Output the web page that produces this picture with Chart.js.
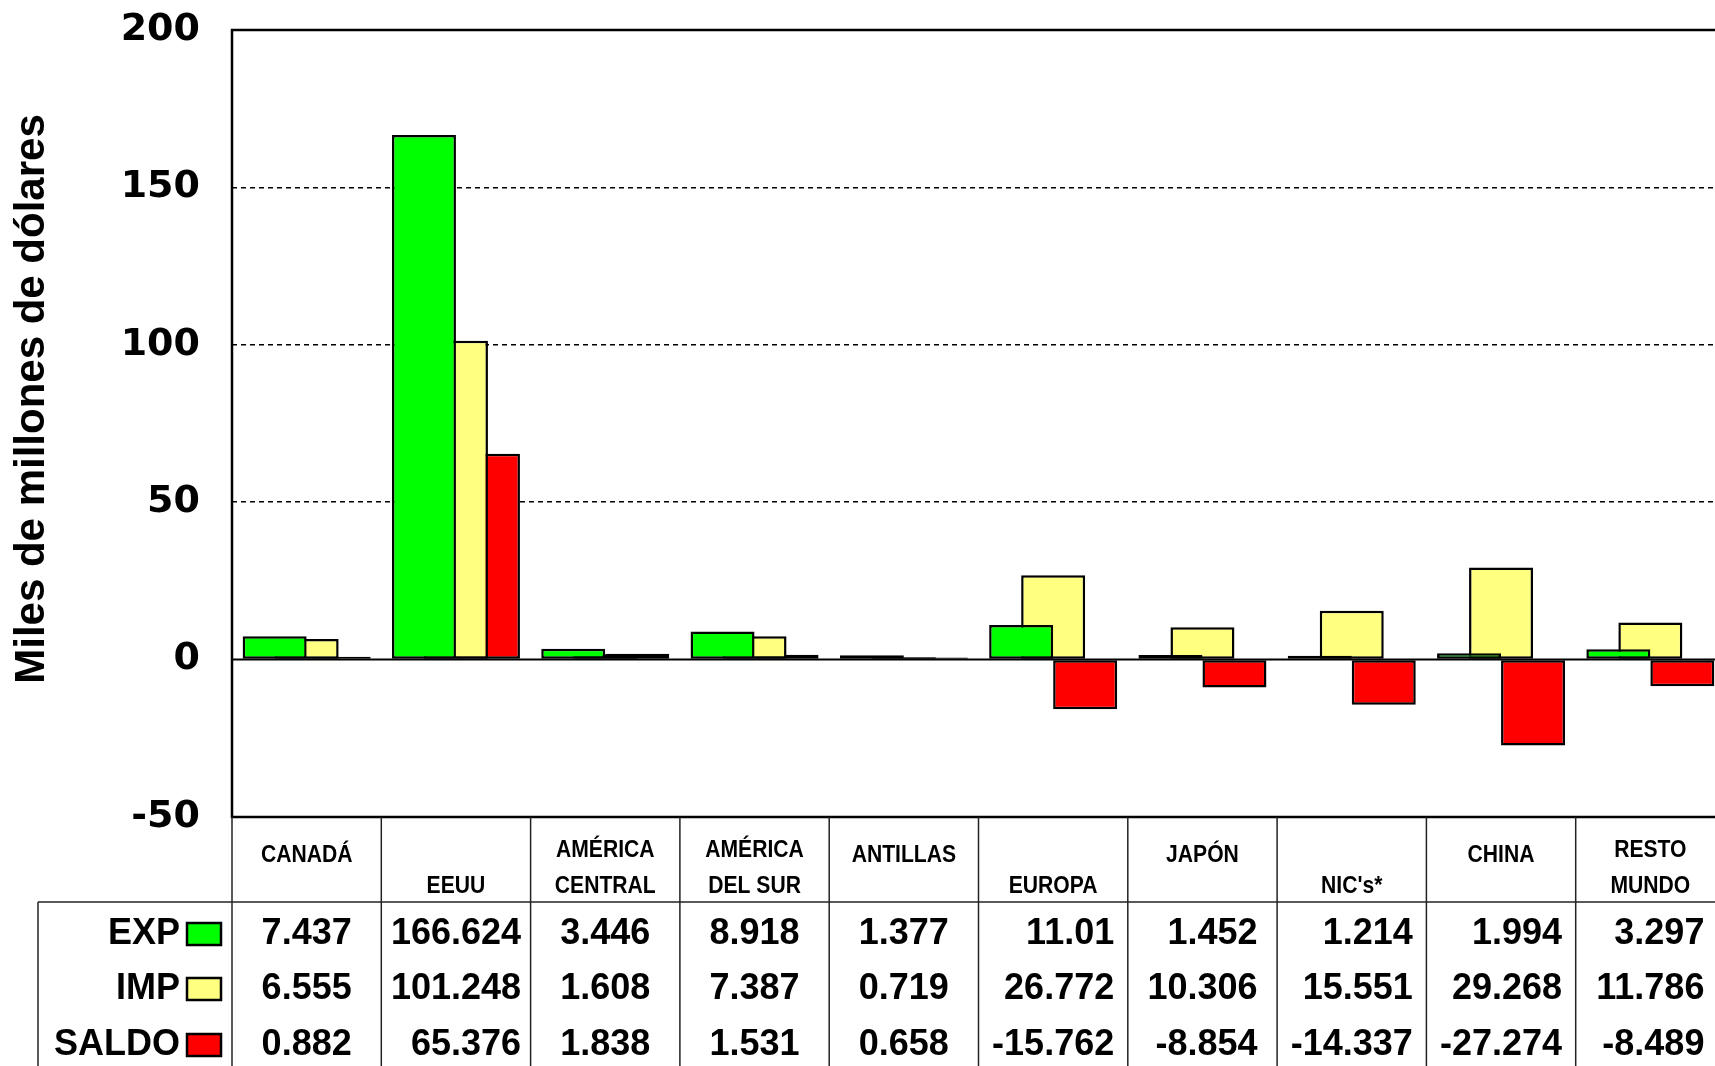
<!DOCTYPE html>
<html>
<head>
<meta charset="utf-8">
<script src="https://cdn.jsdelivr.net/npm/chart.js@4.4.1/dist/chart.umd.min.js"></script>
<style>
html, body { margin: 0; padding: 0; background: #fff; overflow: hidden; }
canvas { display: block; }
</style>
</head>
<body>
<canvas id="chart" width="1730" height="1066"></canvas>
<script>
// Categories as [upper line, lower line] of the table header
const categories = [
	['CANADÁ', ''], ['', 'EEUU'], ['AMÉRICA', 'CENTRAL'], ['AMÉRICA', 'DEL SUR'], ['ANTILLAS', ''],
	['', 'EUROPA'], ['JAPÓN', ''], ['', "NIC's*"], ['CHINA', ''], ['RESTO', 'MUNDO'],
];
const seriesNames  = ['EXP', 'IMP', 'SALDO'];
const expValues    = [7.437, 166.624, 3.446, 8.918, 1.377, 11.01, 1.452, 1.214, 1.994, 3.297];
const impValues    = [6.555, 101.248, 1.608, 7.387, 0.719, 26.772, 10.306, 15.551, 29.268, 11.786];
const saldoValues  = [0.882, 65.376, 1.838, 1.531, 0.658, -15.762, -8.854, -14.337, -27.274, -8.489];
const yMin = -50, yMax = 200, yStep = 50;
const yTitle = 'Miles de millones de dólares';

const seriesColors = ['#00ff00', '#ffff80', '#ff0000'];
const seriesValues = [expValues, impValues, saldoValues];

function line(ctx, x1, y1, x2, y2) {
	ctx.beginPath();
	ctx.moveTo(x1, y1);
	ctx.lineTo(x2, y2);
	ctx.stroke();
}

// Frame, zero line, y title and the data table under the plot
const tablePlugin = {
	id: 'dataTable',
	afterDraw(chart) {
		let ctx  = chart.ctx;
		let area = chart.chartArea;
		let x    = chart.scales.x;
		let y    = chart.scales.y;
		let colW = (x.right - x.left) / categories.length;

		let headTop    = area.bottom;
		let headBottom = headTop + 85;
		let tableEnd   = chart.height + 5;
		let rowLeft    = 38;
		let rowY       = [934, 989, 1045];

		ctx.save();

		// zero line and plot frame
		ctx.strokeStyle = '#000';
		ctx.lineWidth = 2;
		let y0 = y.getPixelForValue(0);
		line(ctx, area.left, y0, area.right, y0);
		ctx.lineWidth = 2.5;
		ctx.strokeRect(area.left, area.top, area.right - area.left, area.bottom - area.top);

		// table grid
		ctx.strokeStyle = '#222';
		ctx.lineWidth = 1.5;
		categories.forEach((c, i) => {
			let left = x.getPixelForValue(i) - colW / 2;
			line(ctx, left, headTop, left, tableEnd);
		});
		line(ctx, x.right, headTop, x.right, tableEnd);
		line(ctx, rowLeft, headBottom, x.right, headBottom);
		line(ctx, rowLeft, headBottom, rowLeft, tableEnd);

		ctx.fillStyle = '#000';
		ctx.textBaseline = 'middle';

		// header labels
		ctx.textAlign = 'center';
		ctx.font = 'bold 24px "Liberation Sans", Arial, sans-serif';
		categories.forEach((c, i) => {
			let cx = x.getPixelForValue(i);
			let lines = [];
			if (c[0]) lines.push([c[0], c[1] ? 850 : 855]);
			if (c[1]) lines.push([c[1], 886]);
			lines.forEach(([txt, ty]) => {
				ctx.save();
				ctx.translate(cx, ty);
				ctx.scale(0.88, 1);
				ctx.fillText(txt, 0, 0);
				ctx.restore();
			});
		});

		// values: right aligned in a block centred on the column
		ctx.font = 'bold 36px "Liberation Sans", Arial, sans-serif';
		ctx.textAlign = 'right';
		categories.forEach((c, i) => {
			let cx = x.getPixelForValue(i);
			let texts = seriesValues.map(vals => String(vals[i]));
			let maxW = Math.max(...texts.map(t => ctx.measureText(t).width));
			texts.forEach((t, r) => ctx.fillText(t, cx + maxW / 2, rowY[r]));
		});

		// row names with colour keys
		seriesNames.forEach((name, r) => {
			ctx.fillStyle = '#000';
			ctx.fillText(name, 180, rowY[r]);
			ctx.fillStyle = seriesColors[r];
			ctx.fillRect(187, rowY[r] - 11, 34, 22);
			ctx.strokeStyle = '#000';
			ctx.lineWidth = 2.5;
			ctx.strokeRect(187, rowY[r] - 11, 34, 22);
		});

		// y axis title
		ctx.fillStyle = '#000';
		ctx.textAlign = 'center';
		ctx.font = 'bold 42px "Liberation Sans", Arial, sans-serif';
		ctx.translate(32, 399);
		ctx.rotate(-Math.PI / 2);
		ctx.fillText(yTitle, 0, 0);

		ctx.restore();
	}
};

let chartCtx = document.getElementById('chart');
let chart = new Chart(chartCtx, {
	type: 'bar',
	data: {
		labels: categories.map(c => c.filter(Boolean).join(' ')),
		datasets: seriesNames.map((name, i) => ({
			label: name,
			data: seriesValues[i],
			backgroundColor: seriesColors[i],
			borderColor: '#000',
			borderWidth: 2.5,
			borderSkipped: false,
			categoryPercentage: 0.643,
			barPercentage: 2,
		})),
	},
	options: {
		responsive: false,
		animation: false,
		layout: { padding: { left: 0, top: 30, right: 5, bottom: 249 } },
		plugins: {
			legend: { display: false },
			tooltip: { enabled: false },
		},
		scales: {
			x: { display: false },
			y: {
				min: yMin,
				max: yMax,
				afterFit: scale => {
					scale.width = 232;
					scale.paddingTop = 0;
					scale.paddingBottom = 0;
				},
				ticks: {
					stepSize: yStep,
					padding: 32,
					color: '#000',
					font: { family: '"DejaVu Sans"', weight: 'bold', size: 38 },
				},
				grid: {
					drawTicks: false,
					lineWidth: 1.5,
					color: c => (c.tick && c.tick.value > yMin && c.tick.value < yMax && c.tick.value !== 0) ? '#000' : 'rgba(0,0,0,0)',
				},
				border: { display: false, dash: [5, 4] },
			},
		},
	},
	plugins: [tablePlugin],
});
</script>
</body>
</html>
